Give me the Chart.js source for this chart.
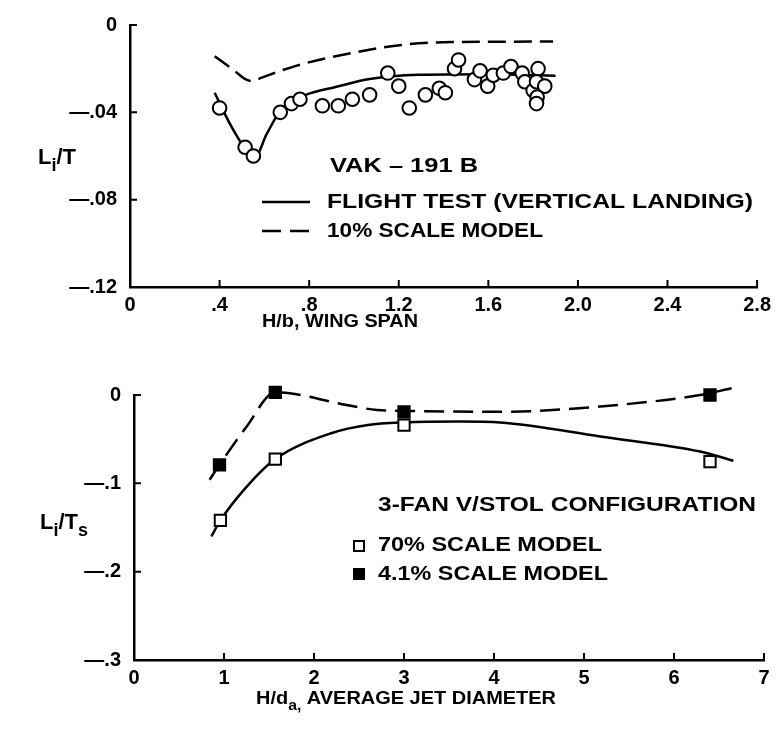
<!DOCTYPE html>
<html>
<head>
<meta charset="utf-8">
<script src="https://cdn.jsdelivr.net/npm/chart.js@4.4.1/dist/chart.umd.min.js"></script>
<style>
body{margin:0;background:#fff;}
#top_wrap{position:absolute;left:0;top:0;width:777px;height:345px;}
#bottom_wrap{position:absolute;left:0;top:360px;width:777px;height:369px;}
</style>
</head>
<body>
<div id="top_wrap"><canvas id="top_graph"></canvas></div>
<div id="bottom_wrap"><canvas id="bottom_graph"></canvas></div>
<script>
const FONT_FAMILY = '"Liberation Sans", Arial, sans-serif';

// ---- upper chart : VAK-191B ----
const top_x_ticks  = [0, 0.4, 0.8, 1.2, 1.6, 2.0, 2.4, 2.8];
const top_x_labels = ["0", ".4", ".8", "1.2", "1.6", "2.0", "2.4", "2.8"];
const top_y_ticks  = [0, -0.04, -0.08, -0.12];
const top_y_labels = ["0", "—.04", "—.08", "—.12"];

// flight test points (open circles)
const flight_x = [0.40, 0.514, 0.551, 0.671, 0.721, 0.759, 0.859, 0.930, 0.993, 1.070,
                  1.151, 1.200, 1.247, 1.319, 1.381, 1.408, 1.449, 1.467, 1.538, 1.563,
                  1.597, 1.622, 1.667, 1.701, 1.751, 1.763, 1.800, 1.822, 1.815, 1.852,
                  1.818, 1.815];
const flight_y = [-0.038, -0.056, -0.060, -0.040, -0.036, -0.034, -0.037, -0.037, -0.034, -0.032,
                  -0.022, -0.028, -0.038, -0.032, -0.029, -0.031, -0.020, -0.016, -0.025, -0.021,
                  -0.028, -0.023, -0.022, -0.019, -0.022, -0.026, -0.030, -0.020, -0.026, -0.028,
                  -0.033, -0.036];

// faired curves
const flight_curve_x  = [0.378, 0.45, 0.51, 0.558, 0.61, 0.68, 0.785, 0.918, 1.07, 1.29, 1.6, 1.9];
const flight_curve_y  = [-0.031, -0.046, -0.056, -0.0605, -0.050, -0.038, -0.032, -0.0284, -0.0247, -0.0228, -0.0225, -0.0232];
const model10_curve_x = [0.378, 0.467, 0.515, 0.545, 0.585, 0.741, 0.993, 1.215, 1.436, 1.889];
const model10_curve_y = [-0.0143, -0.021, -0.0248, -0.0257, -0.0242, -0.0187, -0.0128, -0.0091, -0.0078, -0.0076];

// ---- lower chart : 3-fan V/STOL ----
const bottom_x_ticks  = [0, 1, 2, 3, 4, 5, 6, 7];
const bottom_x_labels = ["0", "1", "2", "3", "4", "5", "6", "7"];
const bottom_y_ticks  = [0, -0.1, -0.2, -0.3];
const bottom_y_labels = ["0", "—.1", "—.2", "—.3"];

const model70_x = [0.96, 1.57, 3.0, 6.4];
const model70_y = [-0.142, -0.0725, -0.034, -0.0755];
const model41_x = [0.95, 1.57, 3.0, 6.4];
const model41_y = [-0.079, 0.003, -0.019, 0.0];

const model70_curve_x = [0.86, 0.96, 1.25, 1.57, 2.2, 2.6, 3.0, 3.62, 4.07, 5.18, 6.29, 6.66];
const model70_curve_y = [-0.160, -0.142, -0.104, -0.0725, -0.043, -0.034, -0.031, -0.030, -0.031, -0.047, -0.064, -0.0745];
const model41_curve_x = [0.84, 0.95, 1.25, 1.57, 1.73, 2.36, 2.70, 3.0, 4.07, 5.18, 6.29, 6.64];
const model41_curve_y = [-0.096, -0.079, -0.036, 0.003, 0.002, -0.0113, -0.017, -0.018, -0.019, -0.013, 0.0, 0.0076];


window.addEventListener("load", function () {
    draw_top_graph();
    draw_bottom_graph();
});


function to_points(xs, ys){
    return xs.map(function(x, i){ return {x: x, y: ys[i]}; });
}

function make_scale(min, max, tick_values, tick_labels, fixed_size, is_x){
    return {
        type: 'linear',
        min: min,
        max: max,
        afterBuildTicks: function(scale){
            scale.ticks = tick_values.map(function(v){ return {value: v}; });
        },
        ticks: {
            callback: function(value){
                let i = tick_values.findIndex(function(v){ return Math.abs(v - value) < 1e-9; });
                return i >= 0 ? tick_labels[i] : "";
            },
            color: '#000',
            font: {family: FONT_FAMILY, size: 20, weight: 'bold'},
            padding: is_x ? 6 : 13,
            maxRotation: 0,
            autoSkip: false
        },
        grid: {display: false, drawTicks: false},
        border: {display: true, color: '#000', width: 2.5},
        afterFit: function(scale){
            if (is_x) scale.height = fixed_size;
            else scale.width = fixed_size;
        }
    };
}

// small tick marks pointing into the plot
const inner_ticks = {
    id: 'inner_ticks',
    afterDraw: function(chart){
        const ctx = chart.ctx;
        const xs = chart.scales.x;
        const ys = chart.scales.y;
        const area = chart.chartArea;
        ctx.save();
        ctx.strokeStyle = '#000';
        ctx.lineWidth = 2;
        ctx.beginPath();
        for (let t of xs.ticks){
            let px = xs.getPixelForValue(t.value);
            ctx.moveTo(px, area.bottom);
            ctx.lineTo(px, area.bottom - 7);
        }
        for (let t of ys.ticks){
            let py = ys.getPixelForValue(t.value);
            ctx.moveTo(area.left, py);
            ctx.lineTo(area.left + 7, py);
        }
        ctx.stroke();
        ctx.restore();
    }
};

// text pieces, some with subscripts  [text, is_sub]; w = width to stretch to
function draw_runs(ctx, runs, x, y, size, w){
    ctx.textBaseline = 'middle';
    ctx.textAlign = 'left';
    let total = 0;
    for (let r of runs){
        ctx.font = 'bold ' + (r[1] ? Math.round(size * 0.8) : size) + 'px ' + FONT_FAMILY;
        total += ctx.measureText(r[0]).width;
    }
    let sx = w ? w / total : 1;
    ctx.save();
    ctx.translate(x, 0);
    ctx.scale(sx, 1);
    let cx = 0;
    for (let r of runs){
        ctx.font = 'bold ' + (r[1] ? Math.round(size * 0.8) : size) + 'px ' + FONT_FAMILY;
        ctx.fillText(r[0], cx, r[1] ? y + size * 0.35 : y);
        cx += ctx.measureText(r[0]).width;
    }
    ctx.restore();
}

const notes = {
    id: 'notes',
    afterDraw: function(chart, args, opts){
        const ctx = chart.ctx;
        ctx.save();
        ctx.fillStyle = '#000';
        ctx.strokeStyle = '#000';
        for (let t of opts.texts){
            draw_runs(ctx, t.runs, t.x, t.y, t.size, t.w);
        }
        for (let m of opts.marks){
            ctx.lineWidth = 2.5;
            if (m.kind === 'line'){
                ctx.setLineDash(m.dash || []);
                ctx.beginPath();
                ctx.moveTo(m.x1, m.y);
                ctx.lineTo(m.x2, m.y);
                ctx.stroke();
                ctx.setLineDash([]);
            } else if (m.kind === 'square'){
                ctx.lineWidth = 2;
                if (m.fill){
                    ctx.fillRect(m.x - 6, m.y - 6, 12, 12);
                } else {
                    ctx.strokeRect(m.x - 5, m.y - 5, 10, 10);
                }
            }
        }
        ctx.restore();
    }
};


function draw_top_graph(){

    const ctx = document.getElementById('top_graph').getContext('2d');
    new Chart(ctx, {
        type: 'scatter',
        data: {
            datasets: [
                {
                    label: "FLIGHT TEST (VERTICAL LANDING)",
                    data: to_points(flight_x, flight_y),
                    pointStyle: 'circle',
                    pointRadius: 6.8,
                    pointBorderWidth: 2,
                    pointBackgroundColor: '#fff',
                    pointBorderColor: '#000',
                    order: 0
                },
                {
                    label: "flight curve",
                    data: to_points(flight_curve_x, flight_curve_y),
                    showLine: true,
                    pointRadius: 0,
                    borderColor: '#000',
                    borderWidth: 2.5,
                    cubicInterpolationMode: 'monotone',
                    order: 1
                },
                {
                    label: "10% SCALE MODEL",
                    data: to_points(model10_curve_x, model10_curve_y),
                    showLine: true,
                    pointRadius: 0,
                    borderColor: '#000',
                    borderWidth: 2.5,
                    borderDash: [18, 8],
                    cubicInterpolationMode: 'monotone',
                    order: 1
                }
            ]
        },
        options: {
            animation: false,
            responsive: true,
            maintainAspectRatio: false,
            layout: {padding: {top: 18, right: 17, left: 0, bottom: 0}},
            scales: {
                x: make_scale(0, 2.8, top_x_ticks, top_x_labels, 58, true),
                y: make_scale(-0.12, 0, top_y_ticks, top_y_labels, 130, false)
            },
            plugins: {
                legend: {display: false},
                tooltip: {enabled: false},
                notes: {
                    texts: [
                        {runs: [["VAK – 191 B", false]], x: 330, y: 166, size: 21, w: 148},
                        {runs: [["FLIGHT TEST (VERTICAL LANDING)", false]], x: 327, y: 202, size: 21, w: 426},
                        {runs: [["10% SCALE MODEL", false]], x: 327, y: 231, size: 21, w: 216},
                        {runs: [["L", false], ["i", true], ["/T", false]], x: 38, y: 158, size: 22},
                        {runs: [["H/b, WING SPAN", false]], x: 262, y: 322, size: 19, w: 156}
                    ],
                    marks: [
                        {kind: 'line', x1: 262, x2: 310, y: 202},
                        {kind: 'line', x1: 262, x2: 310, y: 231, dash: [19, 9]}
                    ]
                }
            }
        },
        plugins: [inner_ticks, notes]
    });
}


function draw_bottom_graph(){

    const ctx = document.getElementById('bottom_graph').getContext('2d');
    new Chart(ctx, {
        type: 'scatter',
        data: {
            datasets: [
                {
                    label: "70% SCALE MODEL",
                    data: to_points(model70_x, model70_y),
                    pointStyle: 'rect',
                    pointRadius: 8,
                    pointBorderWidth: 2,
                    pointBackgroundColor: '#fff',
                    pointBorderColor: '#000',
                    clip: false,
                    order: 0
                },
                {
                    label: "4.1% SCALE MODEL",
                    data: to_points(model41_x, model41_y),
                    pointStyle: 'rect',
                    pointRadius: 8,
                    pointBorderWidth: 2,
                    pointBackgroundColor: '#000',
                    pointBorderColor: '#000',
                    clip: false,
                    order: 0
                },
                {
                    label: "70% curve",
                    data: to_points(model70_curve_x, model70_curve_y),
                    showLine: true,
                    pointRadius: 0,
                    borderColor: '#000',
                    borderWidth: 2.5,
                    cubicInterpolationMode: 'monotone',
                    clip: false,
                    order: 1
                },
                {
                    label: "4.1% curve",
                    data: to_points(model41_curve_x, model41_curve_y),
                    showLine: true,
                    pointRadius: 0,
                    borderColor: '#000',
                    borderWidth: 2.5,
                    borderDash: [20, 9],
                    cubicInterpolationMode: 'monotone',
                    clip: false,
                    order: 1
                }
            ]
        },
        options: {
            animation: false,
            responsive: true,
            maintainAspectRatio: false,
            layout: {padding: {top: 35, right: 13, left: 0, bottom: 0}},
            scales: {
                x: make_scale(0, 7, bottom_x_ticks, bottom_x_labels, 69, true),
                y: make_scale(-0.3, 0, bottom_y_ticks, bottom_y_labels, 134, false)
            },
            plugins: {
                legend: {display: false},
                tooltip: {enabled: false},
                notes: {
                    texts: [
                        {runs: [["3-FAN V/STOL CONFIGURATION", false]], x: 378, y: 145, size: 21, w: 378},
                        {runs: [["70% SCALE MODEL", false]], x: 378, y: 185, size: 21, w: 224},
                        {runs: [["4.1% SCALE MODEL", false]], x: 378, y: 214, size: 21, w: 230},
                        {runs: [["L", false], ["i", true], ["/T", false], ["s", true]], x: 40, y: 163, size: 22},
                        {runs: [["H/d", false], ["a,", true], [" AVERAGE JET DIAMETER", false]], x: 256, y: 339, size: 19, w: 300}
                    ],
                    marks: [
                        {kind: 'square', x: 359, y: 186, fill: false},
                        {kind: 'square', x: 359, y: 214, fill: true}
                    ]
                }
            }
        },
        plugins: [inner_ticks, notes]
    });
}
</script>
</body>
</html>
